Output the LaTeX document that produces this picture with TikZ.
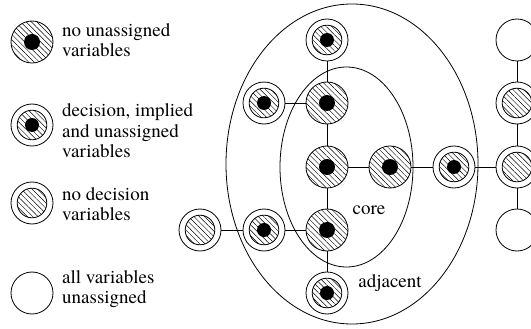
\documentclass[tikz,border=0pt]{standalone}
\usepackage{fontspec}
\newfontfamily\labfont{texgyretermes-regular.otf}
\usetikzlibrary{patterns.meta}
\begin{document}
\begin{tikzpicture}[x=1pt,y=-1pt,
  lw/.style={line width=0.8pt},
  hatch/.style={pattern={Lines[angle=-45,distance=3.8pt,line width=0.45pt]}},
  base/.style={circle, draw, lw, minimum size=42pt, inner sep=0pt},
  corev/.style={base, hatch, path picture={\fill[black] (path picture bounding box.center) circle (8pt);}},
  ringv/.style={base, fill=white, path picture={\draw[lw, hatch] (path picture bounding box.center) circle (14.8pt); \fill[black] (path picture bounding box.center) circle (7pt);}},
  ringnd/.style={base, fill=white, path picture={\draw[lw, hatch] (path picture bounding box.center) circle (14.8pt);}},
  emptyv/.style={base, fill=white},
  edge/.style={lw},
  region/.style={lw},
  lab/.style={font=\labfont\fontsize{19}{20.5}\selectfont, align=left, anchor=west, inner sep=0pt}
]
\useasboundingbox (0,0) rectangle (531,329);
\clip (0,0) rectangle (531,329);
% regions
\draw[region] (352,164) ellipse [x radius=126, y radius=160];
\draw[region] (346.5,167) ellipse [x radius=66.5, y radius=100];
% legend
\node[corev] (l1) at (32,42) {};
\node[ringv] (l2) at (32,125) {};
\node[ringnd] (l3) at (32,203) {};
\node[emptyv] (l4) at (32,293) {};
\node[lab] (t1) at (62,40) {no unassigned\\variables};
\node[lab] (t2) at (62,131) {decision, implied\\and unassigned\\variables};
\node[lab] (t3) at (62,204) {no decision\\variables};
\node[lab] (t4) at (62,289) {all variables\\unassigned};
% graph nodes
\node[corev] (c1) at (327,103) {};
\node[corev] (c2) at (327,167) {};
\node[corev] (c3) at (327,230) {};
\node[corev] (c4) at (390,167) {};
\node[ringv] (a1) at (327,40) {};
\node[ringv] (a2) at (264,103) {};
\node[ringv] (a3) at (264,230) {};
\node[ringv] (a4) at (327,293) {};
\node[ringv] (a5) at (454,167) {};
\node[ringnd] (n1) at (200,230) {};
\node[ringnd] (n2) at (517,103) {};
\node[ringnd] (n3) at (517,167) {};
\node[emptyv] (e1) at (517,40) {};
\node[emptyv] (e2) at (517,230) {};
% connectors
\draw[edge] (a1) -- (c1);
\draw[edge] (c1) -- (c2);
\draw[edge] (c2) -- (c3);
\draw[edge] (c3) -- (a4);
\draw[edge] (a2) -- (c1);
\draw[edge] (a3) -- (c3);
\draw[edge] (n1) -- (a3);
\draw[edge] (c2) -- (c4);
\draw[edge] (c4) -- (a5);
\draw[edge] (a5) -- (n3);
\draw[edge] (e1) -- (n2);
\draw[edge] (n2) -- (n3);
\draw[edge] (n3) -- (e2);
% labels
\node[lab, anchor=center] (core) at (369,210) {core};
\node[lab, anchor=center] (adj) at (390,283) {adjacent};
\end{tikzpicture}
\end{document}
